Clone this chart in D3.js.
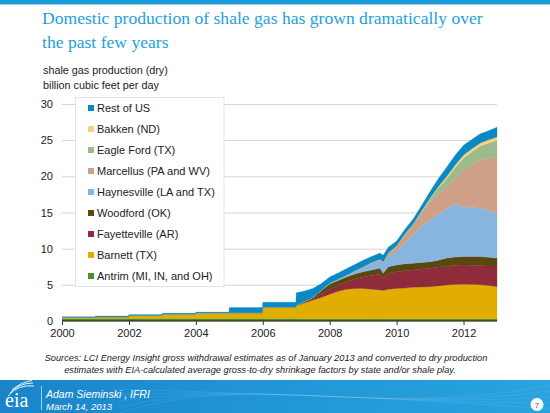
<!DOCTYPE html>
<html><head><meta charset="utf-8">
<script src="https://cdn.jsdelivr.net/npm/d3@7"></script>
<style>body{margin:0;background:#fff}svg{display:block;font-family:Arial,"Liberation Sans",sans-serif}</style>
</head><body><svg id="c" width="550" height="413"></svg>
<script>
const dates = [2000,2000.99,2001,2001.99,2002,2002.99,2003,2003.99,2004,2004.99,2005,2005.99,2006,2006.99,
  2007,2007.25,2007.5,2007.75,2008,2008.25,2008.5,2008.75,2009,2009.25,2009.5,2009.6,2009.75,
  2010,2010.25,2010.5,2010.75,2011,2011.25,2011.5,2011.75,2012,2012.25,2012.5,2012.75,2013];
const antrim = [0.35,0.35,0.35,0.35,0.35,0.35,0.35,0.35,0.35,0.35,0.35,0.35,0.35,0.35,
  0.3,0.3,0.3,0.3,0.3,0.3,0.3,0.3,0.3,0.3,0.3,0.3,0.3,0.3,0.3,0.3,0.3,0.3,0.3,0.3,0.3,0.3,0.3,0.3,0.3,0.3];
const barnett = [0.15,0.15,0.25,0.25,0.42,0.42,0.6,0.6,0.75,0.75,0.8,0.8,1.55,1.55,
  1.8,2.2,2.6,2.95,3.4,3.8,4.1,4.2,4.2,4.1,4.0,3.9,4.1,4.2,4.25,4.35,4.4,4.45,4.55,4.68,4.75,4.77,4.75,4.7,4.6,4.45];
const fayetteville = [0,0,0,0,0,0,0,0,0,0,0,0,0,0,
  0.02,0.1,0.2,0.45,0.7,0.8,1.0,1.3,1.6,1.9,2.2,1.7,2.2,2.3,2.4,2.4,2.5,2.55,2.6,2.52,2.65,2.67,2.65,2.65,2.7,2.85];
const woodford = [0,0,0,0,0,0,0,0,0,0,0,0,0,0,
  0.03,0.05,0.15,0.5,0.7,0.7,0.7,0.7,0.7,0.75,0.8,0.7,0.9,0.95,0.95,0.95,0.9,0.9,0.95,1.2,1.15,1.16,1.2,1.25,1.2,1.1];
const haynesville = [0,0,0,0,0,0,0,0,0,0,0,0,0,0,
  0,0.05,0.05,0.05,0.1,0.15,0.2,0.4,0.6,0.95,1.1,1.4,1.5,1.85,2.9,4.0,5.0,5.8,6.4,6.8,7.35,6.9,6.8,6.7,6.5,6.2];
const marcellus = [0,0,0,0,0,0,0,0,0,0,0,0,0,0,
  0,0,0,0,0.02,0.02,0.03,0.05,0.1,0.1,0.15,0.2,0.35,0.7,1.1,1.3,1.8,2.4,2.8,3.1,3.6,5.1,5.9,6.7,7.2,7.8];
const eagleFord = [0,0,0,0,0,0,0,0,0,0,0,0,0,0,
  0,0,0,0,0,0,0,0,0,0,0,0,0.02,0.05,0.1,0.1,0.25,0.45,0.8,1.1,1.4,1.65,1.8,1.9,2.1,2.3];
const bakken = [0,0,0,0,0,0,0,0,0,0,0,0,0,0,
  0,0,0,0,0,0,0,0,0,0,0,0,0.03,0.05,0.05,0.05,0.1,0.15,0.2,0.3,0.35,0.4,0.4,0.4,0.45,0.45];
const restOfUS = [0.05,0.05,0.08,0.08,0.1,0.1,0.1,0.1,0.12,0.12,0.7,0.7,0.7,0.7,
  1.75,1.45,1.2,0.95,0.85,0.85,0.9,0.85,0.9,0.8,0.85,0.9,0.8,0.65,0.65,0.7,0.75,0.9,1.1,1.3,1.35,1.35,1.3,1.3,1.25,1.35];

const seriesNames = ["Antrim (MI, IN, and OH)","Barnett (TX)","Fayetteville (AR)","Woodford (OK)",
  "Haynesville (LA and TX)","Marcellus (PA and WV)","Eagle Ford (TX)","Bakken (ND)","Rest of US"];
const seriesValues = [antrim,barnett,fayetteville,woodford,haynesville,marcellus,eagleFord,bakken,restOfUS];
const seriesColors = ["#4e8c2c","#e1ae00","#8f2b3a","#5a4810","#86b5e0","#cfa088","#9cbb8c","#f8d37e","#0b89c5"];
const yTicks = [0,5,10,15,20,25,30];
const xTicks = [2000,2002,2004,2006,2008,2010,2012];

const svg = d3.select("#c");
const W = 550, H = 413;
const m = {left:62, right:497, top:104, bottom:321};

// top bar
svg.append("rect").attr("x",0).attr("y",0).attr("width",W).attr("height",4).attr("fill","#1b9cd8");
svg.append("rect").attr("x",0).attr("y",4).attr("width",W).attr("height",1).attr("fill","#9ad3f0");

// title
const title = svg.append("text").attr("fill","#1ea0dc")
  .attr("font-family","'Liberation Serif','Times New Roman',serif").attr("font-size",17.6);
title.append("tspan").attr("x",42).attr("y",24).text("Domestic production of shale gas has grown dramatically over");
title.append("tspan").attr("x",42).attr("y",47.5).text("the past few years");

// axis title
const at = svg.append("text").attr("fill","#222").attr("font-size",10.8);
at.append("tspan").attr("x",43).attr("y",74).text("shale gas production (dry)");
at.append("tspan").attr("x",43).attr("y",89).text("billion cubic feet per day");

const x = d3.scaleLinear().domain([2000,2013]).range([m.left,m.right]);
const y = d3.scaleLinear().domain([0,30]).range([m.bottom,m.top]);

// gridlines + y labels
const yAxis = d3.axisLeft(y).tickValues(yTicks).tickSize(-(m.right-m.left)).tickPadding(9);
const gy = svg.append("g").attr("transform",`translate(${m.left},0)`).call(yAxis);
gy.select(".domain").remove();
gy.selectAll(".tick line").attr("stroke","#d6d6d6").attr("stroke-width",1)
  .attr("opacity",d=>d===0?0:1);
gy.selectAll(".tick text").attr("font-size",11).attr("fill","#222").attr("font-family","Arial,'Liberation Sans',sans-serif");

// stacked areas
const rows = dates.map((d,i)=>{const r={date:d}; seriesNames.forEach((n,k)=>r[n]=seriesValues[k][i]); return r;});
const stack = d3.stack().keys(seriesNames);
const layers = stack(rows);
const area = d3.area().x(d=>x(d.data.date)).y0(d=>y(d[0])).y1(d=>y(d[1]));
svg.append("g").selectAll("path").data(layers).join("path")
  .attr("d",area).attr("fill",(d,i)=>seriesColors[i]).attr("stroke",(d,i)=>seriesColors[i]).attr("stroke-width",0.3);

// x axis
const xAxis = d3.axisBottom(x).tickValues(xTicks).tickFormat(d3.format("d")).tickSize(4).tickPadding(4);
const gx = svg.append("g").attr("transform",`translate(0,${m.bottom})`).call(xAxis);
gx.select(".domain").attr("stroke","#1a1a1a").attr("stroke-width",1.2).attr("d",`M${m.left},0H${m.right}`);
gx.selectAll(".tick line").attr("stroke","#333");
gx.selectAll(".tick text").attr("font-size",11).attr("fill","#222").attr("font-family","Arial,'Liberation Sans',sans-serif");

// legend
svg.append("rect").attr("x",75.5).attr("y",97.5).attr("width",148.5).attr("height",189)
  .attr("fill","#fff").attr("stroke","#e4e4e4").attr("stroke-width",1);
const legOrder = seriesNames.map((n,i)=>i).reverse();
const lg = svg.append("g");
legOrder.forEach((k,j)=>{
  const cy = 108 + j*21;
  lg.append("rect").attr("x",88).attr("y",cy-3).attr("width",6).attr("height",6).attr("fill",seriesColors[k]);
  lg.append("text").attr("x",97).attr("y",cy+4).attr("font-size",11).attr("fill","#222").text(seriesNames[k]);
});

// sources
const src = svg.append("text").attr("font-size",9.25).attr("font-style","italic").attr("fill","#222").attr("text-anchor","middle");
src.append("tspan").attr("x",266).attr("y",361).text("Sources:  LCI Energy Insight gross withdrawal estimates as of January 2013 and converted to dry production");
src.append("tspan").attr("x",260).attr("y",373).text("estimates with EIA-calculated average gross-to-dry shrinkage factors by state and/or shale play.");

// footer
const defs = svg.append("defs");
const lgr = defs.append("linearGradient").attr("id","fg").attr("x1","0").attr("x2","1").attr("y1","0").attr("y2","0");
lgr.append("stop").attr("offset","0").attr("stop-color","#1a84c9");
lgr.append("stop").attr("offset","0.5").attr("stop-color","#2196d6");
lgr.append("stop").attr("offset","1").attr("stop-color","#2aa3df");
svg.append("rect").attr("x",0).attr("y",380).attr("width",W).attr("height",33).attr("fill","url(#fg)");
const wave = svg.append("g").attr("fill","none").attr("stroke","#ffffff").attr("stroke-opacity",0.08);
[0,6,12,18,24].forEach(o=>{
  wave.append("path").attr("d",`M120,${413-o} C250,${370+o} 380,${420-o} 550,${385+o}`);
});
// logo
const logo = svg.append("g").attr("fill","none").attr("stroke","#fff").attr("stroke-width",0.9);
logo.append("path").attr("d","M8,396 Q18,384 34,386");
logo.append("path").attr("d","M10,393 Q19,383 33,383");
logo.append("path").attr("d","M12,390 Q21,382 32,380.5");
svg.append("text").attr("x",5).attr("y",407).attr("fill","#fff")
  .attr("font-family","'Liberation Serif','Times New Roman',serif").attr("font-size",20).text("eia");
svg.append("line").attr("x1",41.5).attr("x2",41.5).attr("y1",386).attr("y2",410).attr("stroke","#fff").attr("stroke-opacity",0.6);
const ft = svg.append("text").attr("fill","#fff").attr("font-style","italic");
ft.append("tspan").attr("x",46).attr("y",398).attr("font-size",10.5).text("Adam Sieminski , IFRI");
ft.append("tspan").attr("x",46).attr("y",410).attr("font-size",9.5).text("March 14, 2013");
svg.append("circle").attr("cx",537).attr("cy",404.5).attr("r",6.5).attr("fill","#fff");
svg.append("text").attr("x",537).attr("y",407.5).attr("text-anchor","middle").attr("font-size",8).attr("fill","#555").text("7");
</script></body></html>
